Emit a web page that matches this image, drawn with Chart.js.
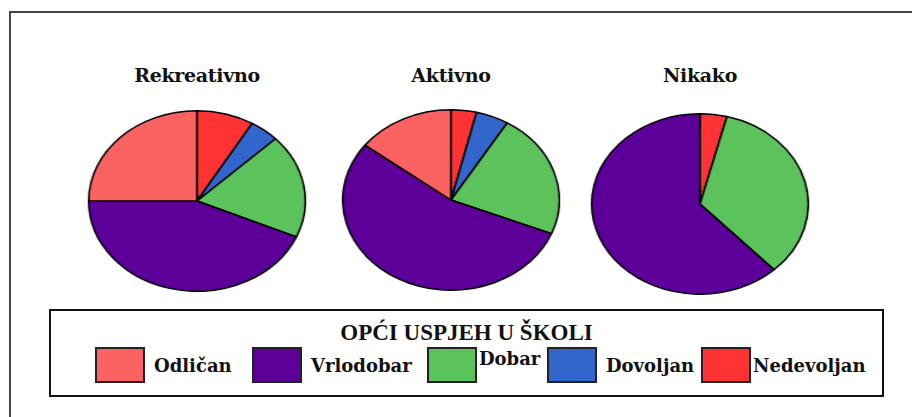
<!DOCTYPE html>
<html>
<head>
<meta charset="utf-8">
<script src="https://cdn.jsdelivr.net/npm/chart.js@4"></script>
<style>
  body { margin: 0; width: 912px; height: 417px; background: #fff; overflow: hidden; position: relative; }
  .frame { position: absolute; left: 9px; top: 11px; width: 940px; height: 440px;
           border-top: 2px solid #454545; border-left: 2px solid #454545; }
  .pie { position: absolute; width: 182px; height: 182px; transform: scaleX(1.2); transform-origin: center; }
  .ttl { position: absolute; width: 200px; text-align: center; font: bold 19px "DejaVu Serif", serif; color: #111; letter-spacing: -0.3px; }
  .legend { position: absolute; left: 49px; top: 309px; width: 831px; height: 84px; border: 2px solid #111; }
  .legend .head { position: absolute; left: 0; right: 0; top: 9px; text-align: center;
                  font: bold 23px "Liberation Serif", serif; color: #111; }
  .sw { position: absolute; top: 36px; width: 46px; height: 32px; border: 2px solid #222; }
  .lab { position: absolute; top: 44px; font: bold 18px "DejaVu Serif", serif; color: #111; white-space: nowrap; }
</style>
</head>
<body>
<div class="frame"></div>
<div id="pies"></div>
<div class="legend" id="legend"><div class="head">OPĆI USPJEH U ŠKOLI</div></div>
<script>
// categories and values (percent)
const categories = ['Odličan', 'Vrlodobar', 'Dobar', 'Dovoljan', 'Nedevoljan'];
const groups = ['Rekreativno', 'Aktivno', 'Nikako'];
const rekreativno = [25, 43.5, 18.6, 4.4, 8.5];
const aktivno = [14.6, 54.4, 22.4, 4.9, 3.8];
const nikako = [0, 62, 34, 0, 4];
const colors = ['#fb6262', '#5c0099', '#5cc35c', '#3366cc', '#ff3333'];

const seriesList = [rekreativno, aktivno, nikako];
// pie centres on the page
const centers = [[197, 201], [451, 200], [700, 204]];
const titleY = 64;

const piesDiv = document.getElementById('pies');
seriesList.forEach((values, i) => {
    const [cx, cy] = centers[i];
    const wrap = document.createElement('div');
    wrap.className = 'pie';
    wrap.style.left = (cx - 91) + 'px';
    wrap.style.top = (cy - 91) + 'px';
    const canvas = document.createElement('canvas');
    canvas.width = 182;
    canvas.height = 182;
    wrap.appendChild(canvas);
    piesDiv.appendChild(wrap);

    const t = document.createElement('div');
    t.className = 'ttl';
    t.textContent = groups[i];
    t.style.left = (cx - 100) + 'px';
    t.style.top = titleY + 'px';
    piesDiv.appendChild(t);

    // slices go counter-clockwise from the top in legend order, so reverse for Chart.js
    new Chart(canvas.getContext('2d'), {
        type: 'pie',
        data: {
            labels: categories.slice().reverse(),
            datasets: [{
                data: values.slice().reverse(),
                backgroundColor: colors.slice().reverse(),
                borderColor: '#000',
                borderWidth: 1.5
            }]
        },
        options: {
            responsive: false,
            animation: false,
            layout: { padding: 0 },
            plugins: { legend: { display: false }, tooltip: { enabled: false } }
        }
    });
});

// legend
const legend = document.getElementById('legend');
const swatchX = [44, 201, 376, 496, 650];
categories.forEach((name, i) => {
    const sw = document.createElement('div');
    sw.className = 'sw';
    sw.style.left = swatchX[i] + 'px';
    sw.style.background = colors[i];
    legend.appendChild(sw);
    const lab = document.createElement('div');
    lab.className = 'lab';
    lab.textContent = name;
    lab.style.left = (swatchX[i] + (i === 2 || i === 4 ? 52 : 59)) + 'px';
    if (i === 2) lab.style.top = '37px';
    legend.appendChild(lab);
});
</script>
</body>
</html>
